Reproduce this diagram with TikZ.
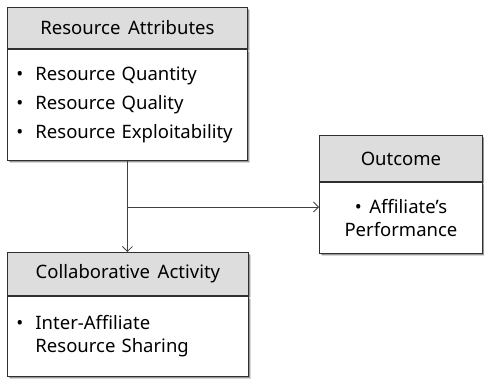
\documentclass[tikz,border=0pt]{standalone}
\usepackage{fontspec}
\setmainfont{Noto Sans}[WordSpace=1.6]
\usetikzlibrary{arrows.meta,shadows}

\definecolor{headgray}{HTML}{DDDDDD}
\definecolor{edgegray}{HTML}{303030}
\definecolor{linkgray}{HTML}{404040}

\tikzset{
  boxshadow/.style={
    drop shadow={shadow xshift=3pt,shadow yshift=-3pt,fill=black,opacity=0.15},
    drop shadow={shadow xshift=1.5pt,shadow yshift=-1.5pt,fill=black,opacity=0.3}},
  boxbase/.style={draw=edgegray, line width=0.9pt, rectangle, inner sep=0pt,
    font=\fontsize{18.5}{21}\selectfont, text=black, boxshadow},
  head/.style={boxbase, fill=headgray},
  body/.style={boxbase, fill=white},
  link/.style={draw=linkgray, line width=0.8pt,
    -{Straight Barb[length=5pt,width=10pt,line width=0.8pt]}},
}
\newcommand{\bulletitem}[1]{\makebox[19pt][l]{\textbullet}#1}
\newcommand{\bulletcont}[1]{\hspace*{19pt}#1}

\begin{document}
\begin{tikzpicture}[x=1pt,y=-1pt]
  \useasboundingbox (0,0) rectangle (484,379);

  % Resource Attributes
  \node[head, minimum width=240pt, minimum height=41pt, anchor=north west]
    (attrH) at (7,7) {Resource Attributes};
  \node[body, minimum width=240pt, minimum height=111pt, anchor=north,
        text width=222pt, align=left, font=\fontsize{18.5}{29}\selectfont]
    (attrB) at (attrH.south)
    {\bulletitem{Resource Quantity}\\
     \bulletitem{Resource Quality}\\
     \bulletitem{Resource Exploitability}};

  % Outcome
  \node[head, minimum width=163pt, minimum height=46pt, anchor=north west]
    (outH) at (319,135) {Outcome};
  \node[body, minimum width=163pt, minimum height=71pt, anchor=north,
        align=center, font=\fontsize{18.5}{23}\selectfont]
    (outB) at (outH.south)
    {\textbullet\ Affiliate’s\\Performance};

  % Collaborative Activity
  \node[head, minimum width=241pt, minimum height=43pt, anchor=north west]
    (collH) at (7,252) {Collaborative Activity};
  \node[body, minimum width=241pt, minimum height=80pt, anchor=north,
        text width=223pt, align=left, font=\fontsize{18.5}{23}\selectfont]
    (collB) at (collH.south)
    {\bulletitem{Inter-Affiliate}\\
     \bulletcont{Resource Sharing}};

  % Connectors
  \coordinate (split) at (attrB.south |- 0,207);
  \draw[link] (attrB.south) -- (attrB.south |- collH.north);
  \draw[link] (split) -- (split -| outB.west);
\end{tikzpicture}
\end{document}
